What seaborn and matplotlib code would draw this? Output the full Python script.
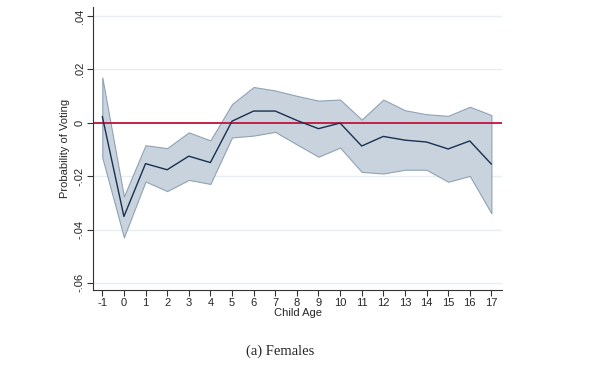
import numpy as np
import pandas as pd
import matplotlib
matplotlib.use("Agg")
import matplotlib.pyplot as plt
import seaborn as sns

# event-study estimates
child_age = [-1, 0, 1, 2, 3, 4, 5, 6, 7, 8, 9, 10, 11, 12, 13, 14, 15, 16, 17]
coef = [0.0024, -0.0351, -0.0153, -0.0176, -0.0125, -0.0149, 0.0006, 0.0044, 0.0044, 0.0009,
        -0.0022, -0.0001, -0.0087, -0.0051, -0.0065, -0.0072, -0.0098, -0.0068, -0.0155]
ci_upper = [0.0170, -0.0276, -0.0084, -0.0095, -0.0036, -0.0066, 0.0070, 0.0134, 0.0121, 0.0101,
            0.0083, 0.0087, 0.0012, 0.0087, 0.0047, 0.0032, 0.0026, 0.0060, 0.0029]
ci_lower = [-0.0130, -0.0429, -0.0220, -0.0256, -0.0214, -0.0229, -0.0055, -0.0048, -0.0034, -0.0081,
            -0.0127, -0.0093, -0.0184, -0.0190, -0.0176, -0.0176, -0.0221, -0.0199, -0.0339]
y_ticks = [-0.06, -0.04, -0.02, 0, 0.02, 0.04]
y_tick_labels = ["-.06", "-.04", "-.02", "0", ".02", ".04"]

df = pd.DataFrame({"age": child_age, "coef": coef, "lo": ci_lower, "hi": ci_upper})

sns.set_style("white")
plt.rcParams['font.family'] = ['Liberation Sans', 'DejaVu Sans']

fig = plt.figure(figsize=(6, 3.66), dpi=100)
ax = fig.add_axes([0.155, 0.208, 0.682, 0.773])

for t in y_ticks:
    ax.axhline(t, color="#e6eef0", lw=1.0, zorder=0)

ax.fill_between(df["age"], df["lo"], df["hi"], facecolor="#c8d3de",
                edgecolor="#8fa2b5", lw=0.8, zorder=1)
ax.axhline(0, color="#c0143c", lw=1.3, zorder=2)
sns.lineplot(data=df, x="age", y="coef", color="#1a3050", lw=1.0, ax=ax, zorder=3)

ax.set_xlim(-1.43, 17.5)
ax.set_ylim(-0.0626, 0.0434)
ax.set_xticks(child_age)
ax.set_xticklabels([str(a) for a in child_age], fontsize=8)
ax.set_yticks(y_ticks)
ax.set_yticklabels(y_tick_labels, fontsize=8, rotation=90, va="center")
ax.tick_params(axis="both", direction="out", length=4, width=0.8, color="#333333", pad=2)
ax.tick_params(left=True, bottom=True)

for s in ["top", "right"]:
    ax.spines[s].set_visible(False)
for s in ["left", "bottom"]:
    ax.spines[s].set_color("#333333")
    ax.spines[s].set_linewidth(0.8)

ax.set_xlabel("Child Age", fontsize=8, labelpad=0)
ax.set_ylabel("Probability of Voting", fontsize=8, labelpad=3)

fig.text(0.467, 0.04, "(a) Females", ha="center", va="center",
         fontsize=10.5, family=["Liberation Serif", "DejaVu Serif"])

fig.savefig("out.png", dpi=100)
